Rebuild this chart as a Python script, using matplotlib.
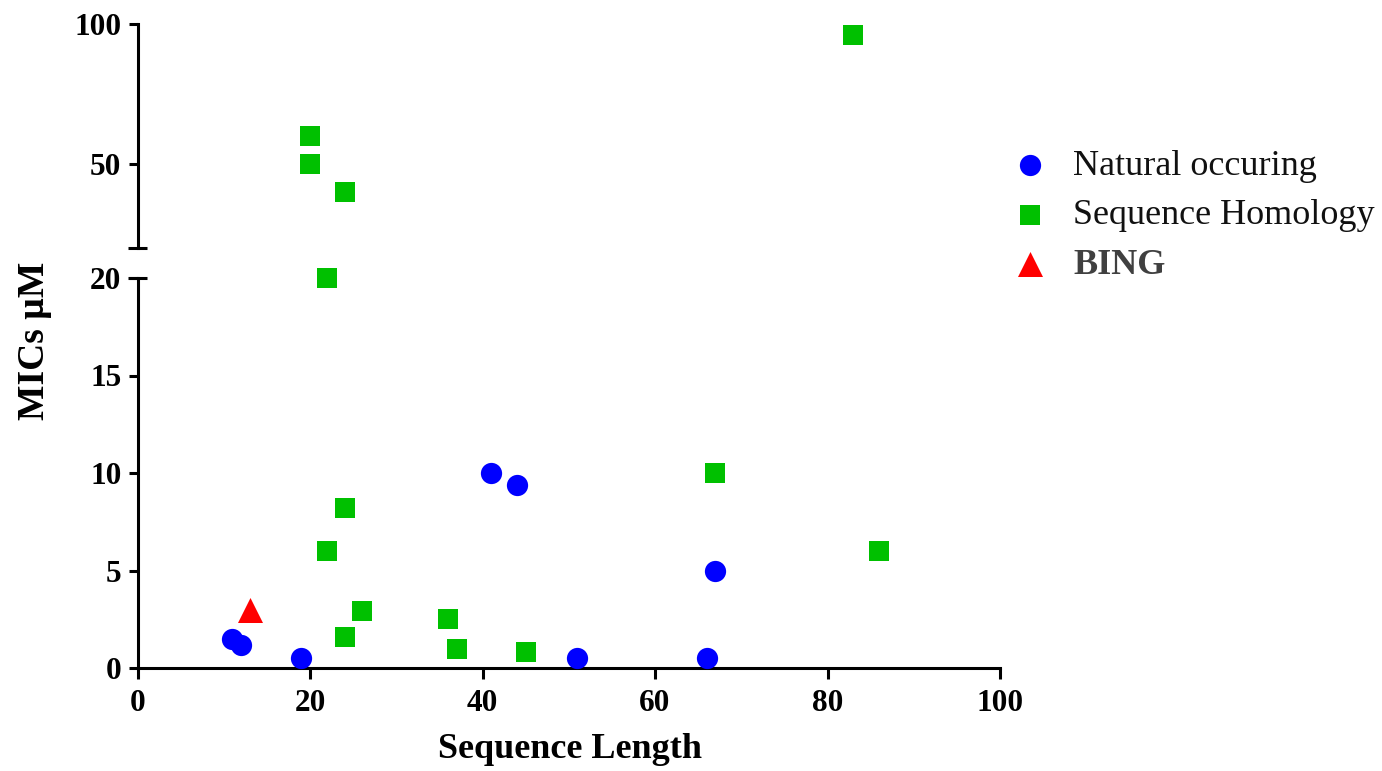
import numpy as np
import matplotlib
matplotlib.use("Agg")
import matplotlib.pyplot as plt

# ---- data ----
natural_x = [11, 12, 19, 41, 44, 51, 66, 67]
natural_y = [1.5, 1.2, 0.5, 10, 9.4, 0.5, 0.5, 5]
homology_x = [20, 20, 24, 22, 24, 22, 26, 24, 36, 37, 45, 67, 86, 83]
homology_y = [60, 50, 40, 20, 8.2, 6, 2.9, 1.6, 2.5, 1.0, 0.8, 10, 6, 96]
bing_x = [13]
bing_y = [3]
series_labels = ["Natural occuring", "Sequence Homology", "BING"]
x_ticks = [0, 20, 40, 60, 80, 100]
low_yticks = [0, 5, 10, 15, 20]
high_yticks = [50, 100]
x_label = "Sequence Length"
y_label = "MICs µM"

plt.rcParams['font.family'] = ['Liberation Serif', 'DejaVu Serif']

W, H = 1382, 771
fig = plt.figure(figsize=(W / 100, H / 100), dpi=100)

def fx(px):
    return px / W

def fy(py):
    return 1 - py / H

left, right = 137.5, 1000
ax_lo = fig.add_axes([fx(left), fy(668), fx(right - left), (668 - 278) / H])
ax_hi = fig.add_axes([fx(left), fy(248), fx(right - left), (248 - 24) / H])

blue = "#0000FF"
green = "#00C000"
red = "#FF0000"
ms_c = 15.3 ** 2
ms_s = 15.0 ** 2
ms_t = 18.0 ** 2

nx, ny = np.array(natural_x), np.array(natural_y)
hx, hy = np.array(homology_x), np.array(homology_y)
bx, by = np.array(bing_x), np.array(bing_y)

split = 20
handles = None
for ax, lo_mask in ((ax_lo, True), (ax_hi, False)):
    def sel(y):
        return (y <= split) if lo_mask else (y > split)
    h1 = ax.scatter(nx[sel(ny)], ny[sel(ny)], s=ms_c, marker='o', color=blue,
                    linewidths=0, clip_on=False, zorder=3)
    h2 = ax.scatter(hx[sel(hy)], hy[sel(hy)], s=ms_s, marker='s', color=green,
                    linewidths=0, clip_on=False, zorder=3)
    h3 = ax.scatter(bx[sel(by)], by[sel(by)], s=ms_t, marker='^', color=red,
                    linewidths=0, clip_on=False, zorder=3)
    if lo_mask:
        handles = [h1, h2, h3]

ax_lo.set_xlim(0, 100)
ax_hi.set_xlim(0, 100)
ax_lo.set_ylim(0, 20)
ax_hi.set_ylim(20, 100)

lw = 2.2
tfs = 22.5
for ax in (ax_lo, ax_hi):
    ax.spines['top'].set_visible(False)
    ax.spines['right'].set_visible(False)
    ax.spines['left'].set_linewidth(lw)
    ax.spines['bottom'].set_linewidth(lw)
    ax.tick_params(width=lw, length=6.5, labelsize=tfs, pad=5)

ax_hi.spines['bottom'].set_visible(False)
ax_hi.set_xticks([])
ax_hi.set_yticks(high_yticks)
ax_hi.set_yticklabels([str(t) for t in high_yticks], fontweight='bold', fontsize=tfs)

ax_lo.set_xticks(x_ticks)
ax_lo.set_xticklabels([str(t) for t in x_ticks], fontweight='bold', fontsize=tfs)
ax_lo.set_yticks(low_yticks)
ax_lo.set_yticklabels([str(t) for t in low_yticks], fontweight='bold', fontsize=tfs)
ax_lo.tick_params(axis='x', length=8, pad=7)

# break marks
half = 9.5 / (right - left)
ax_hi.plot([-half, half], [0, 0], transform=ax_hi.transAxes, color='black',
           lw=lw, clip_on=False, solid_capstyle='butt')
ax_lo.plot([-half, half], [1, 1], transform=ax_lo.transAxes, color='black',
           lw=lw, clip_on=False, solid_capstyle='butt')

fig.text(fx(570), fy(750), x_label, ha='center', va='center',
         fontsize=26, fontweight='bold')
fig.text(fx(35), fy(341), y_label, ha='center', va='center', rotation=90,
         fontsize=27, fontweight='bold')

leg = fig.legend(handles, series_labels, loc='upper left',
                 bbox_to_anchor=(fx(994), fy(135)), frameon=False,
                 fontsize=26, labelspacing=0.45, handlelength=1.2,
                 handletextpad=0.59, borderaxespad=0, scatterpoints=1)
texts = leg.get_texts()
texts[0].set_color('#111111')
texts[1].set_color('#111111')
texts[2].set_color('#404040')
texts[2].set_fontweight('bold')

fig.savefig("out.png", dpi=100)
